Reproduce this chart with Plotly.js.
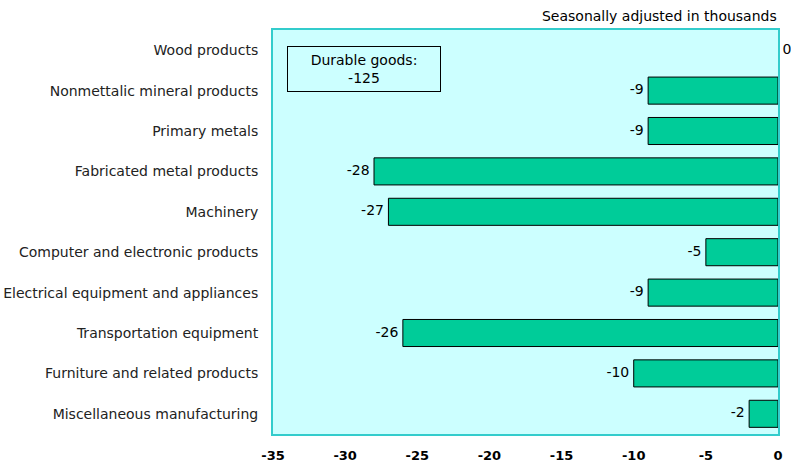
<!DOCTYPE html>
<html><head><meta charset="utf-8">
<script src="https://cdn.plot.ly/plotly-3.0.1.min.js"></script>
<style>html,body{margin:0;padding:0;background:#fff}</style>
</head><body><div id="chart" style="width:791px;height:465px"></div>
<script>
const categories = [
  "Wood products",
  "Nonmettalic mineral products",
  "Primary metals",
  "Fabricated metal products",
  "Machinery",
  "Computer and electronic products",
  "Electrical equipment and appliances",
  "Transportation equipment",
  "Furniture and related products",
  "Miscellaneous manufacturing"
];
const values = [0, -9, -9, -28, -27, -5, -9, -26, -10, -2];
const xTicks = [-35, -30, -25, -20, -15, -10, -5, 0];
const totalLabel = "Durable goods:<br>-125";
const titleText = "Seasonally adjusted in thousands";

const font = "Tahoma, 'DejaVu Sans', sans-serif";
const bars = {
  type: "bar", orientation: "h", x: values, y: categories,
  marker: {color: "#00CC99", line: {color: "#000", width: values.map(v => v === 0 ? 0 : 1)}},
  hoverinfo: "skip", width: 0.67
};
const labels = {
  type: "scatter", mode: "text", x: values, y: categories,
  text: values.map(v => v === 0 ? " " + String(v) : String(v) + " "),
  textposition: values.map(v => v === 0 ? "middle right" : "middle left"),
  textfont: {family: font, size: 14, color: "#000"},
  cliponaxis: false, hoverinfo: "skip"
};
const layout = {
  width: 791, height: 465,
  margin: {l: 273, r: 13, t: 30, b: 31},
  paper_bgcolor: "#fff", plot_bgcolor: "#CCFFFF",
  showlegend: false,
  font: {family: font, size: 14, color: "#000"},
  title: {text: titleText, x: 0.982, xanchor: "right", y: 0.965, yanchor: "middle",
          font: {family: font, size: 14, color: "#000"}},
  xaxis: {range: [-35, 0], tickvals: xTicks, ticktext: xTicks.map(String),
          showgrid: false, zeroline: false, showline: true, mirror: true,
          linecolor: "#33CCCC", linewidth: 2, ticks: "", fixedrange: true, ticklabelstandoff: 8,
          tickfont: {family: font, size: 13, color: "#000", weight: "bold"}},
  yaxis: {autorange: "reversed", showgrid: false, zeroline: false, showline: true, mirror: true,
          linecolor: "#33CCCC", linewidth: 2, ticks: "", ticklabelstandoff: 10,
          tickfont: {family: font, size: 14, color: "#222"}},
  annotations: [{
    xref: "paper", yref: "paper", x: 0.181, y: 0.960, xanchor: "center", yanchor: "top",
    text: totalLabel, showarrow: false, align: "center",
    font: {family: font, size: 14, color: "#000"},
    bordercolor: "#000", borderwidth: 1, borderpad: 5, width: 142, bgcolor: "#CCFFFF"
  }]
};
Plotly.newPlot("chart", [bars, labels], layout, {displayModeBar: false, staticPlot: true});
</script></body></html>
